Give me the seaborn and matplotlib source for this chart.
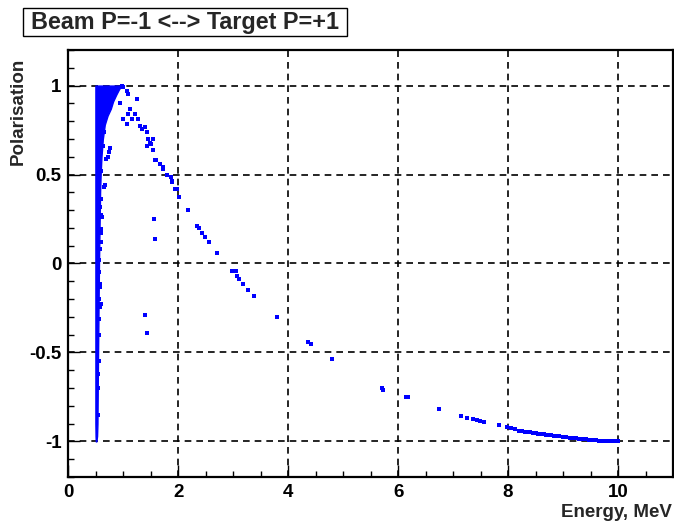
import matplotlib
matplotlib.use("Agg")
import matplotlib.pyplot as plt
import matplotlib.patches as mpatches
import seaborn as sns

# Saturated band of events just above threshold: polarisation vs. band edges in energy
band_p = [-1.00, -0.97, -0.90, -0.60, -0.30, 0.00, 0.20, 0.40, 0.50, 0.60, 0.70,
          0.78, 0.83, 0.87, 0.91, 0.95, 0.98, 1.00]
band_e_low = [0.497, 0.493, 0.490, 0.490, 0.490, 0.490, 0.490, 0.490, 0.490, 0.490,
              0.490, 0.490, 0.490, 0.490, 0.490, 0.490, 0.490, 0.490]
band_e_high = [0.508, 0.520, 0.527, 0.535, 0.545, 0.555, 0.565, 0.575, 0.585, 0.600,
               0.625, 0.660, 0.710, 0.770, 0.810, 0.870, 0.920, 0.970]

# Individual events (energy in MeV, polarisation)
energy = [
    # ragged edge of the band
    0.57, 0.59, 0.60, 0.61, 0.66, 0.57, 0.585, 0.56, 0.57, 0.57, 0.60, 0.60, 0.65,
    0.69, 0.72, 0.74, 0.75, 0.78, 0.94, 0.56, 0.55, 0.58, 0.59, 0.60, 0.62, 0.64,
    0.55, 0.545, 0.56, 0.54, 0.55, 0.545,
    # upper arc and fall-off
    0.97, 1.00, 1.06, 1.09, 1.24, 1.12, 1.09, 1.00, 1.06, 1.15, 1.21, 1.27, 1.30,
    1.33, 1.39, 1.43, 1.45, 1.49, 1.43, 1.51, 1.54, 1.54, 1.57, 1.60, 1.66, 1.72,
    1.72, 1.79, 1.86, 1.88, 1.88, 1.94, 1.97, 2.01,
    2.17, 2.33, 2.38, 2.43, 2.48, 2.56, 2.71, 2.97, 3.05, 3.06, 3.11, 3.17, 3.27,
    3.38, 3.80, 4.36, 4.41, 4.80, 5.70, 5.72, 6.14, 6.17, 6.74, 7.15, 7.26, 7.36,
    7.43, 7.49, 7.56, 7.83, 7.98, 8.06, 8.13, 8.20,
    # dense tail towards the endpoint
    8.25, 8.30, 8.36, 8.40, 8.45, 8.51, 8.55, 8.60, 8.65, 8.69, 8.74, 8.78, 8.83,
    8.88, 8.93, 9.00, 9.05, 9.12, 9.17, 9.24, 9.29, 9.36, 9.41, 9.48, 9.53, 9.60,
    9.65, 9.72, 9.78, 9.85, 9.90, 9.95, 10.00,
    # stray events
    1.56, 1.57, 1.39, 1.42,
]
polarisation = [
    0.08, 0.12, 0.195, 0.26, 0.44, -0.115, -0.226, -0.31, -0.13, -0.245, 0.27, 0.17,
    0.43, 0.59, 0.60, 0.625, 0.65, 0.925, 0.90, -0.05, -0.40, 0.32, 0.36, 0.52,
    0.66, 0.74, -0.55, -0.70, -0.20, -0.85, 0.02, -0.62,
    1.00, 0.99, 0.97, 0.95, 0.925, 0.87, 0.84, 0.81, 0.785, 0.81, 0.84, 0.81, 0.775,
    0.757, 0.766, 0.74, 0.70, 0.68, 0.66, 0.67, 0.70, 0.64, 0.58, 0.58, 0.56, 0.53,
    0.54, 0.50, 0.485, 0.457, 0.466, 0.416, 0.416, 0.373,
    0.30, 0.21, 0.20, 0.17, 0.15, 0.12, 0.06, -0.04, -0.045, -0.07, -0.09, -0.115,
    -0.15, -0.18, -0.30, -0.44, -0.45, -0.535, -0.70, -0.71, -0.75, -0.75, -0.82,
    -0.86, -0.87, -0.875, -0.88, -0.886, -0.89, -0.91, -0.92, -0.925, -0.93, -0.94,
    -0.942, -0.945, -0.948, -0.950, -0.951, -0.953, -0.956, -0.959, -0.960, -0.962,
    -0.964, -0.966, -0.968, -0.970, -0.972, -0.976, -0.977, -0.979, -0.981, -0.983,
    -0.985, -0.987, -0.988, -0.990, -0.992, -0.994, -0.995, -0.996, -0.997, -0.998,
    -0.999, -1.000, -1.000,
    0.25, 0.14, -0.29, -0.39,
]

x_ticks = [0, 2, 4, 6, 8, 10]
y_ticks = [-1, -0.5, 0, 0.5, 1]
y_tick_labels = ["-1", "-0.5", "0", "0.5", "1"]

sns.set_style("ticks")
plt.rcParams["font.family"] = ["Liberation Sans", "DejaVu Sans"]
plt.rcParams["font.weight"] = "bold"

fig = plt.figure(figsize=(6.74, 5.23), dpi=100)
ax = fig.add_axes([0.1016, 0.0880, 0.8969, 0.8164])

blue = "#0000ff"
ax.fill_betweenx(band_p, band_e_low, band_e_high, color=blue, lw=1.0, ec=blue, zorder=3)
sns.scatterplot(x=energy, y=polarisation, marker="s", s=8, color=blue,
                linewidth=0, ax=ax, zorder=4)

ax.set_xlim(0, 11)
ax.set_ylim(-1.2, 1.2)
ax.set_xticks(x_ticks)
ax.set_xticklabels([str(t) for t in x_ticks])
ax.set_yticks(y_ticks)
ax.set_yticklabels(y_tick_labels)
ax.set_xticks([i * 0.5 for i in range(23)], minor=True)
ax.set_yticks([-1.2 + 0.1 * i for i in range(25)], minor=True)

ax.grid(True, which="major", color="black", linestyle=(0, (4, 3)), linewidth=1.2)
ax.set_axisbelow(False)
for s in ax.spines.values():
    s.set_visible(True)
    s.set_color("black")
    s.set_linewidth(1.6)

ax.tick_params(which="both", direction="in", top=False, right=False,
               colors="black", width=1.0)
ax.tick_params(which="major", length=8.5, labelsize=13.5, pad=5)
ax.tick_params(which="minor", length=4.3)
for lab in ax.get_xticklabels() + ax.get_yticklabels():
    lab.set_fontweight("bold")

ax.set_xlabel("")
ax.set_ylabel("")
fig.text(0.997, 0.021, "Energy, MeV", ha="right", va="center",
         fontsize=13.5, fontweight="bold")
fig.text(0.027, 0.889, "Polarisation", ha="center", va="top", rotation=90,
         fontsize=13.5, fontweight="bold")

# Title pave
fig.patches.append(mpatches.Rectangle((22.7 / 674, 1 - 36 / 523), 324 / 674, 27.7 / 523,
                                      transform=fig.transFigure, fc="white",
                                      ec="black", lw=1.0))
fig.text(184.7 / 674, 1 - 22.2 / 523, "Beam P=-1 <--> Target P=+1", ha="center",
         va="center", fontsize=16.8, fontweight="bold")

fig.savefig("out.png", dpi=100)
